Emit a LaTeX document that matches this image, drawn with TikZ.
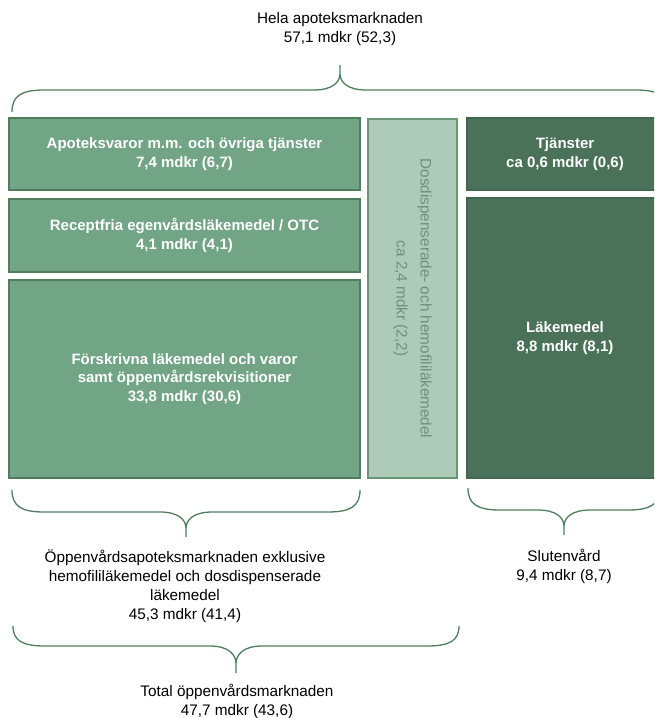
\documentclass[tikz,border=0pt]{standalone}
\usepackage{fontspec}
\setmainfont{Liberation Sans}

\definecolor{midgreen}{HTML}{72A585}
\definecolor{midedge}{HTML}{4F7D5E}
\definecolor{lightgreen}{HTML}{AECBB9}
\definecolor{lightedge}{HTML}{6A9676}
\definecolor{darkgreen}{HTML}{4A7258}
\definecolor{darkedge}{HTML}{40684F}
\definecolor{bracecol}{HTML}{4F7D5E}
\definecolor{sidetext}{HTML}{6F907B}

% curly brace: left x, right x, end y, bar y, tip y
\newcommand{\curlybrace}[5]{%
  \pgfmathsetmacro{\bm}{(#1+#2)/2}%
  \pgfmathsetmacro{\bd}{#4-#3}%
  \pgfmathsetmacro{\bt}{#5-#4}%
  \draw[bracestyle]
    (#1,#3) .. controls (#1,{#3+0.75*\bd}) and ({#1+10},#4) .. ({#1+32},#4)
    -- ({\bm-26},#4) .. controls ({\bm-8},#4) and (\bm,{#4+0.3*\bt}) .. (\bm,{#4+0.65*\bt})
    -- (\bm,#5)
    (\bm,{#4+0.65*\bt}) .. controls (\bm,{#4+0.3*\bt}) and ({\bm+8},#4) .. ({\bm+26},#4)
    -- ({#2-32},#4) .. controls ({#2-10},#4) and (#2,{#3+0.75*\bd}) .. (#2,#3);
}

\begin{document}
\begin{tikzpicture}[x=1pt,y=-1pt,
  bracestyle/.style={draw=bracecol,line width=1.3pt},
  tilebox/.style={rectangle,line width=2pt,inner sep=0pt,align=center,
    font=\bfseries\fontsize{15}{18.5}\selectfont,text=white},
  midbox/.style={tilebox,draw=midedge,fill=midgreen},
  lightbox/.style={tilebox,draw=lightedge,fill=lightgreen},
  darkbox/.style={tilebox,draw=darkedge,fill=darkgreen},
  caption/.style={align=center,inner sep=0pt,text=black,
    font=\fontsize{15.3}{19}\selectfont}]

\useasboundingbox (0,0) rectangle (654,718);
\clip (0,0) rectangle (654,718);

% left column: pharmacy market segments
\node[midbox,minimum width=351pt,minimum height=72pt] (apotek) at (184.5,154)
  {Apoteksvaror m.m. och övriga tjänster\\7,4 mdkr (6,7)};
\node[midbox,minimum width=351pt,minimum height=73pt] (otc) at (184.5,235.5)
  {Receptfria egenvårdsläkemedel / OTC\\4,1 mdkr (4,1)};
\node[midbox,minimum width=351pt,minimum height=198pt] (rx) at (184.5,379)
  {Förskrivna läkemedel och varor\\samt öppenvårdsrekvisitioner\\33,8 mdkr (30,6)};

% middle column: dose-dispensed and haemophilia drugs
\node[lightbox,minimum width=89pt,minimum height=359pt] (dos) at (412.5,298.5) {};
\node[rotate=-90,align=center,inner sep=0pt,text=sidetext,
  font=\fontsize{15.3}{24}\selectfont] (dostext) at (dos.center)
  {Dosdispenserade- och hemofililäkemedel\\ca 2,4 mdkr (2,2)};

% right column: hospital care
\node[darkbox,minimum width=196pt,minimum height=72pt] (tjanst) at (565,154)
  {Tjänster\\ca 0,6 mdkr (0,6)};
\node[darkbox,minimum width=196pt,minimum height=280pt] (lakemedel) at (565,338)
  {Läkemedel\\8,8 mdkr (8,1)};

% braces
\curlybrace{12}{668}{112}{90}{65}
\curlybrace{12}{360}{490}{512}{537}
\curlybrace{13}{459}{626}{646}{673}
\curlybrace{468}{660}{488}{510}{535}

% captions
\node[caption] (hela) at (340,29) {Hela apoteksmarknaden\\57,1 mdkr (52,3)};
\node[caption] (oppen) at (185,586)
  {Öppenvårdsapoteksmarknaden exklusive\\hemofililäkemedel och dosdispenserade\\läkemedel\\45,3 mdkr (41,4)};
\node[caption] (total) at (237,701) {Total öppenvårdsmarknaden\\47,7 mdkr (43,6)};
\node[caption] (sluten) at (564,566) {Slutenvård\\9,4 mdkr (8,7)};
\end{tikzpicture}
\end{document}
